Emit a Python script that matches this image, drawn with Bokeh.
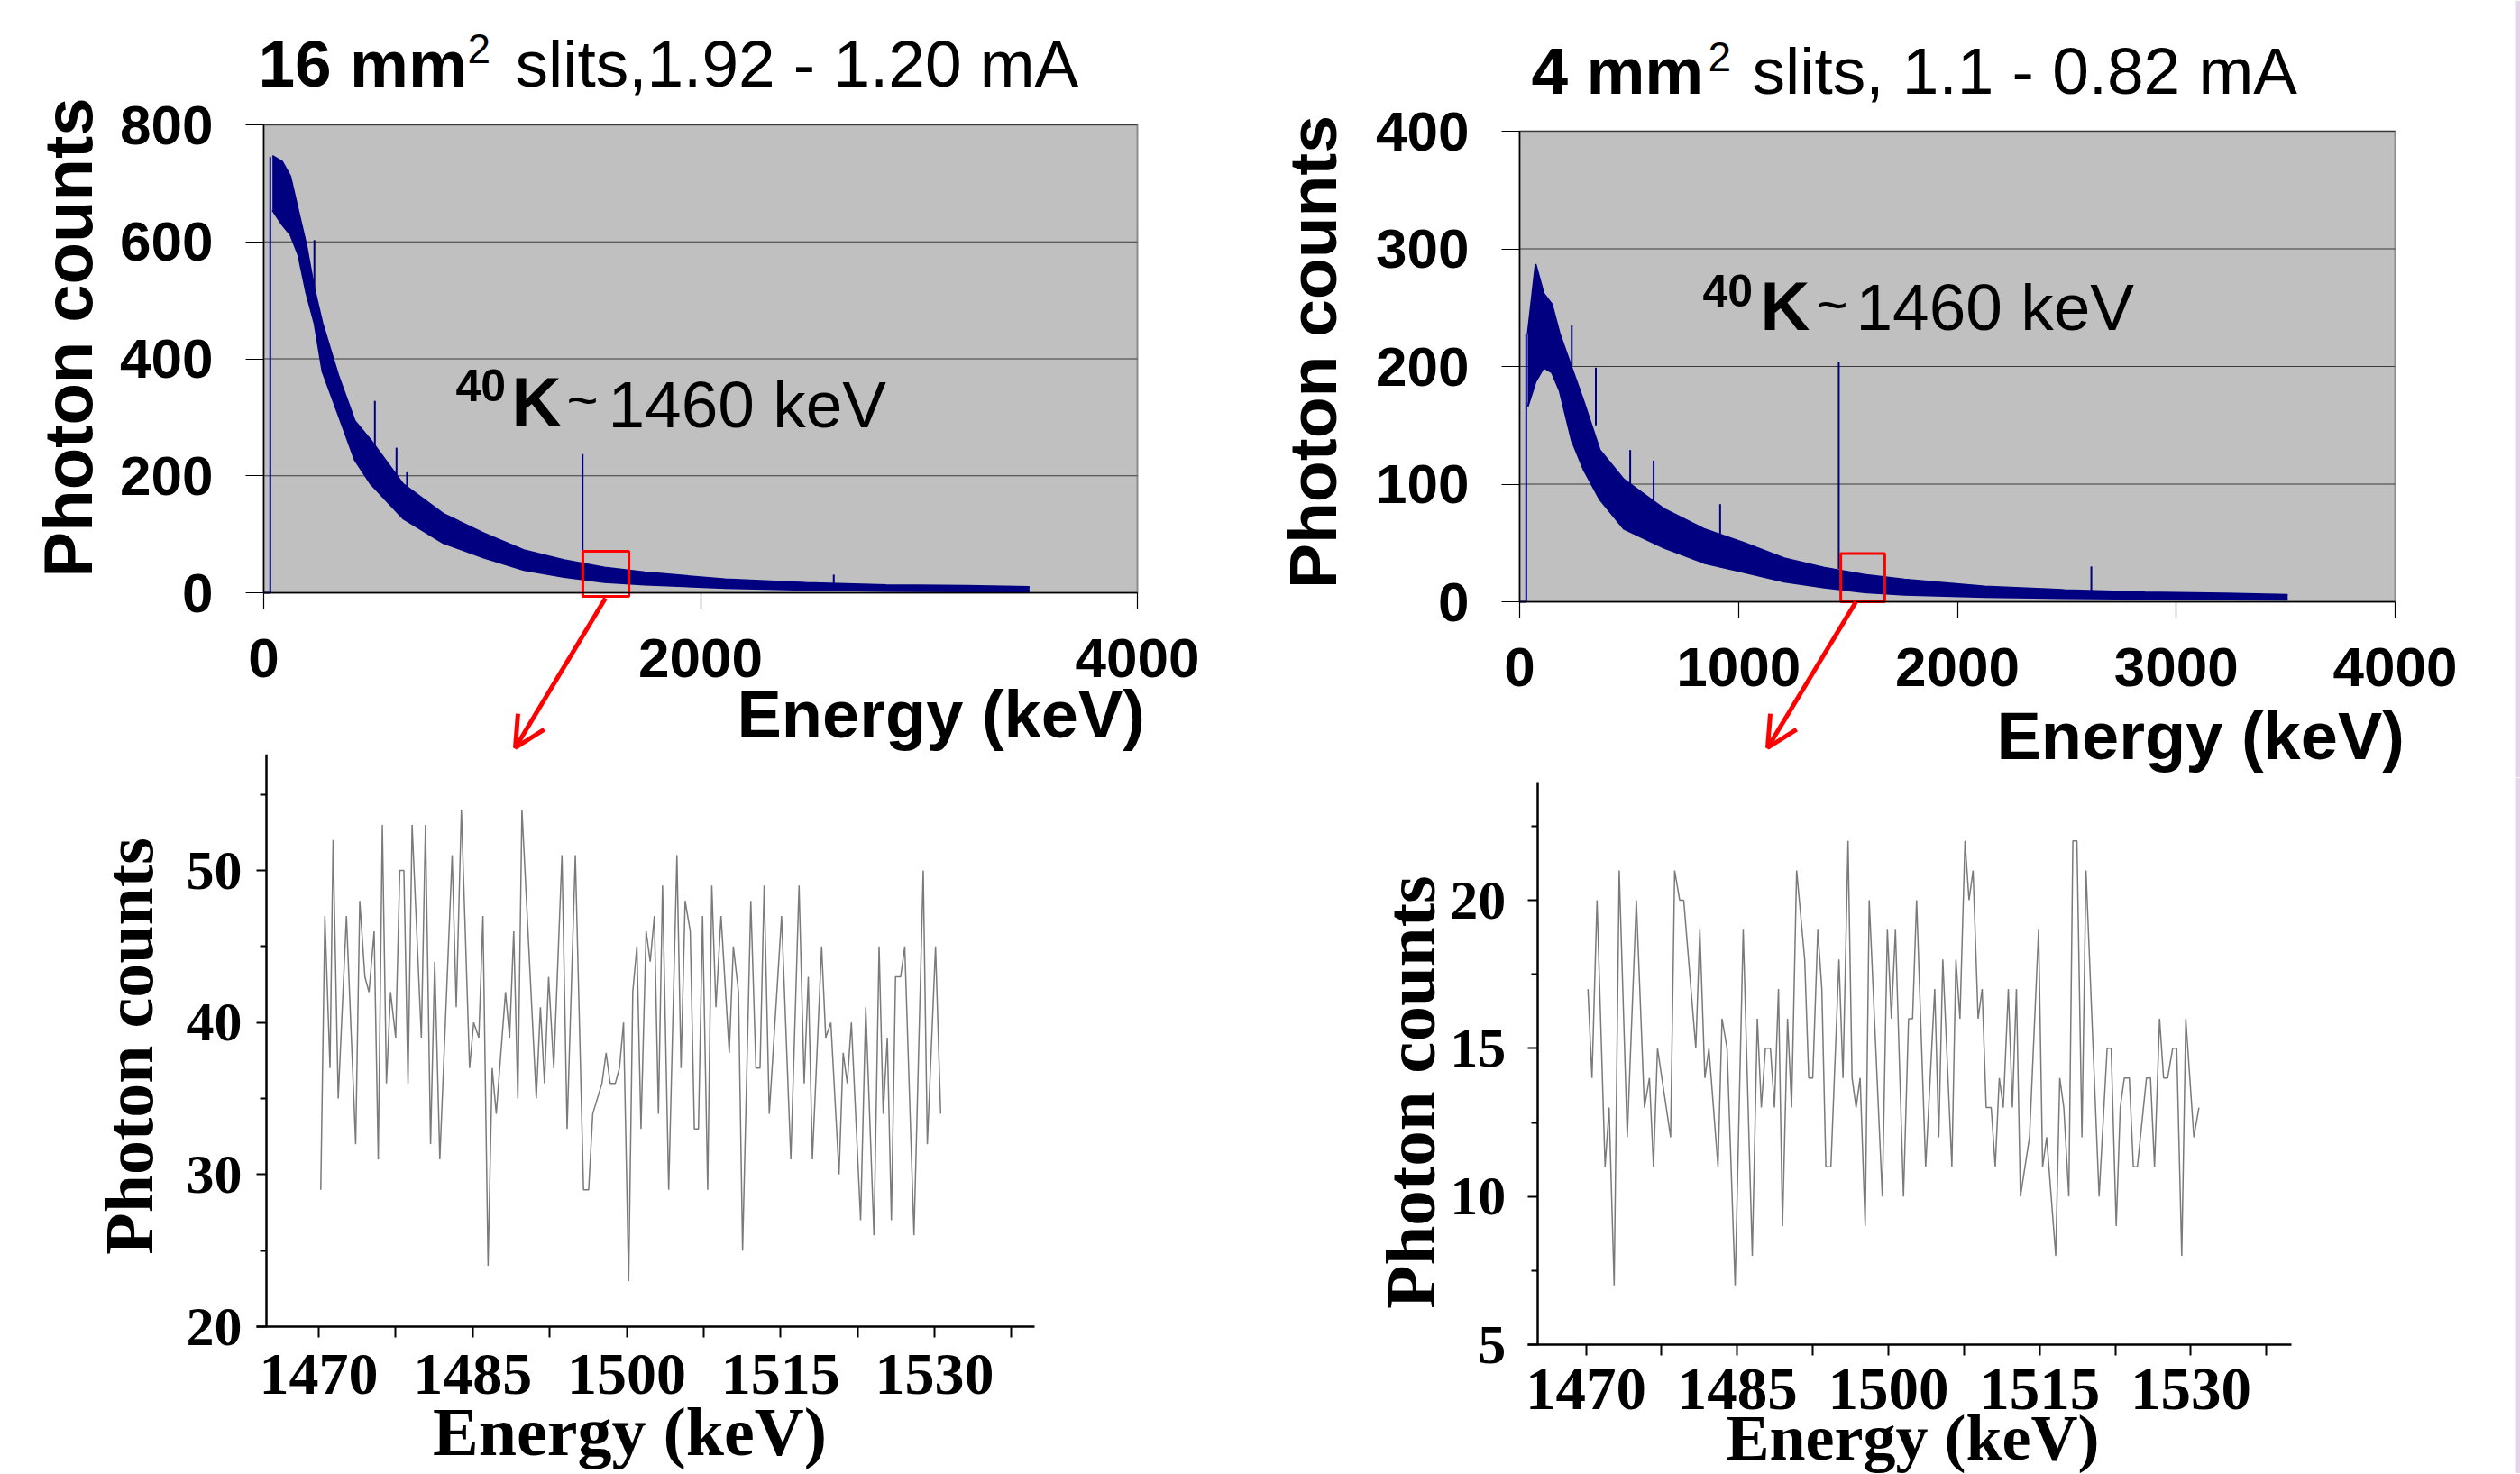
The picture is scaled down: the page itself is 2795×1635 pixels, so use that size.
import numpy as np
from bokeh.plotting import figure
from bokeh.models import Label, Arrow, OpenHead, FixedTicker, Range1d, BoxAnnotation
from bokeh.layouts import row, column
from bokeh.embed import file_html
from bokeh.resources import INLINE

SANS = "Liberation Sans"
SERIF = "Liberation Serif"
NAVY = "#000080"

# ---------------- data: top-left spectrum (16 mm2 slits) ----------------
TL_LEAD_E = [0, 30, 30]
TL_LEAD_C = [0, 0, 745]
TL_ENV_E = [40, 85, 122, 158, 195, 232, 269, 343, 417, 490, 638, 822, 1007,
            1191, 1375, 1560, 1744, 2113, 2481, 2850, 3219, 3506]
TL_ENV_HI = [747, 737, 712, 654, 595, 520, 461, 370, 294, 261, 186, 135, 102,
             73, 56, 43, 35, 23, 17, 13, 12, 10]
TL_ENV_LO = [654, 629, 612, 578, 512, 461, 378, 303, 227, 186, 127, 85, 60,
             39, 27, 18, 14, 8, 5, 3, 2.5, 2]
TL_SPIKE_E = [232, 509, 608, 656, 1460, 2610]
TL_SPIKE_TOP = [603, 328, 248, 206, 237, 31]
TL_SPIKE_BASE = [500, 250, 200, 170, 50, 12]
TL_BOX = [1461, 1672, -6, 71]

# ---------------- data: top-right spectrum (4 mm2 slits) ----------------
TR_LEAD_E = [0, 30, 30]
TR_LEAD_C = [0, 0, 228]
TR_ENV_E = [37, 73, 110, 147, 183, 238, 293, 366, 476, 659, 842, 1026, 1209,
            1392, 1575, 1758, 2125, 2491, 2857, 3223, 3509]
TR_ENV_HI = [228, 287, 262, 253, 228, 199, 170, 129, 104, 79, 62, 50, 37,
             29, 23, 19, 13, 10, 8, 7, 6]
TR_ENV_LO = [166, 187, 199, 195, 179, 137, 112, 87, 62, 46, 33, 25, 17,
             12, 8, 6, 4, 3, 2.5, 2, 1.7]
TR_SPIKE_E = [238, 348, 505, 612, 916, 1458, 2612]
TR_SPIKE_TOP = [235, 199, 129, 120, 83, 204, 30]
TR_SPIKE_BASE = [200, 150, 90, 75, 50, 28, 8]
TR_BOX = [1467, 1668, 0, 41]

# ---------------- data: bottom-left zoom (1470-1530 keV) ----------------
BL_E = [1470.2, 1470.6, 1471.1, 1471.4, 1471.9, 1472.7, 1473.6, 1474.0, 1474.5, 1474.9,
        1475.4, 1475.8, 1476.2, 1476.6, 1477.0, 1477.5, 1477.9, 1478.3, 1478.7, 1479.1,
        1480.0, 1480.4, 1480.9, 1481.3, 1481.8, 1483.0, 1483.4, 1483.9, 1484.7, 1485.1,
        1485.6, 1486.0, 1486.5, 1486.9, 1487.3, 1488.2, 1488.6, 1489.0, 1489.4, 1489.8,
        1491.2, 1491.6, 1492.0, 1492.4, 1492.9, 1493.7, 1494.2, 1495.0, 1495.8, 1496.3,
        1496.7, 1497.6, 1498.0, 1498.4, 1498.9, 1499.3, 1499.7, 1500.2, 1500.6, 1501.0,
        1501.4, 1501.9, 1502.3, 1502.7, 1503.1, 1503.5, 1504.1, 1504.9, 1505.3, 1505.7,
        1506.2, 1506.6, 1507.0, 1507.4, 1507.9, 1508.3, 1508.7, 1509.2, 1510.0, 1510.4,
        1510.9, 1511.3, 1512.1, 1512.6, 1513.0, 1513.4, 1513.9, 1515.1, 1516.0, 1516.8,
        1517.3, 1517.7, 1518.1, 1519.0, 1519.4, 1519.9, 1520.7, 1521.1, 1521.5, 1521.9,
        1522.8, 1523.3, 1524.1, 1524.6, 1525.0, 1525.4, 1525.8, 1526.2, 1526.7, 1527.1,
        1528.0, 1528.9, 1529.3, 1530.1, 1530.6]
BL_C = [29, 47, 37, 52, 35, 47, 32, 48, 43, 42,
        46, 31, 53, 36, 42, 39, 50, 50, 36, 53,
        39, 53, 32, 44, 31, 51, 41, 54, 37, 40,
        39, 47, 24, 37, 34, 42, 39, 46, 35, 54,
        35, 41, 36, 43, 37, 51, 33, 51, 29, 29,
        34, 36, 38, 36, 36, 37, 40, 23, 42, 45,
        33, 46, 44, 47, 34, 49, 29, 51, 37, 48,
        46, 33, 33, 47, 29, 49, 41, 47, 38, 45,
        42, 25, 48, 37, 37, 49, 34, 47, 31, 49,
        36, 43, 31, 45, 39, 40, 30, 38, 36, 40,
        27, 41, 26, 45, 34, 39, 27, 43, 43, 45,
        26, 50, 32, 45, 34]

# ---------------- data: bottom-right zoom (1470-1530 keV) ----------------
BR_E = [1470.2, 1470.6, 1471.1, 1471.9, 1472.3, 1472.8, 1473.3, 1474.1, 1475.0, 1475.8,
        1476.3, 1476.7, 1477.1, 1478.4, 1478.8, 1479.3, 1479.7, 1480.9, 1481.3, 1481.8,
        1482.2, 1483.1, 1483.5, 1484.0, 1484.8, 1485.6, 1486.5, 1487.0, 1487.4, 1487.8,
        1488.3, 1488.7, 1489.1, 1489.5, 1490.0, 1490.4,
        1490.9, 1491.7, 1492.1, 1492.5, 1493.0, 1493.4, 1493.8, 1494.3, 1495.1, 1495.5,
        1496.0, 1496.4, 1496.8, 1497.2, 1497.7, 1498.1, 1499.4, 1499.9, 1500.3, 1500.7,
        1501.5, 1502.0, 1502.4, 1502.8, 1503.7, 1504.6, 1505.0, 1505.4, 1506.3, 1506.7,
        1507.1, 1507.6, 1508.0, 1508.4, 1508.9, 1509.3, 1509.7, 1510.2, 1510.6, 1511.0,
        1511.4,
        1511.9, 1512.3, 1512.7, 1513.1, 1514.0, 1514.9, 1515.3, 1515.7, 1516.6, 1517.0,
        1517.4, 1517.9, 1518.3, 1518.7, 1519.2, 1519.6, 1520.9, 1521.7, 1522.1, 1522.6,
        1523.0, 1523.4, 1523.9, 1524.3, 1524.7, 1525.6, 1526.0, 1526.4, 1526.9, 1527.3,
        1527.7, 1528.2, 1528.6, 1529.1, 1529.5, 1530.3, 1530.8]
BR_C = [17, 14, 20, 11, 13, 7, 21, 12, 20, 13,
        14, 11, 15, 12, 21, 20, 20, 15, 19, 14,
        15, 11, 16, 15, 7, 19, 8, 16, 13, 15,
        15, 13, 17, 9, 16, 13,
        21, 18, 14, 14, 19, 17, 11, 11, 18, 14,
        22, 14, 13, 14, 9, 20, 10, 19, 16, 19,
        10, 16, 16, 20, 11, 17, 12, 18, 11, 18,
        16, 22, 20, 21, 16, 17, 13, 13, 11, 14,
        13,
        17, 13, 17, 10, 12, 19, 11, 12, 8, 14,
        13, 10, 22, 22, 12, 21, 10, 15, 15, 9,
        13, 14, 14, 11, 11, 14, 14, 11, 16, 14,
        14, 15, 15, 8, 16, 12, 13]

TOP_XLIM = [0, 4000]
TL_YLIM = [0, 800]
TR_YLIM = [0, 400]
TOP_XTICKS_L = [0, 2000, 4000]
TOP_XTICKS_R = [0, 1000, 2000, 3000, 4000]
TL_YTICKS = [0, 200, 400, 600, 800]
TR_YTICKS = [0, 100, 200, 300, 400]
BOT_XTICKS = [1470, 1485, 1500, 1515, 1530]
BOT_XMINOR = [1477.5, 1492.5, 1507.5, 1522.5, 1537.5]
BL_XLIM = [1463.9, 1539.75]
BL_YLIM = [20, 57.66]
BL_YTICKS = [20, 30, 40, 50]
BL_YMINOR = [25, 35, 45, 55]
BR_XLIM = [1464.2, 1539.98]
BR_YLIM = [5, 23.99]
BR_YTICKS = [5, 10, 15, 20]
BR_YMINOR = [7.5, 12.5, 17.5, 22.5]


def lin(p0, p1, v0, v1):
    k = (v1 - v0) / (p1 - p0)
    return lambda P: v0 + (P - p0) * k


class Panel:
    """A figure whose frame is its whole canvas; page box + two calibration points per axis."""
    def __init__(self, X0, Y0, X1, Y1, xcal, ycal):
        self.X0, self.Y0, self.X1, self.Y1 = X0, Y0, X1, Y1
        fx = lin(*xcal)
        fy = lin(*ycal)
        self.p = figure(width=X1 - X0, height=Y1 - Y0,
                        x_range=Range1d(fx(X0), fx(X1)), y_range=Range1d(fy(Y1), fy(Y0)),
                        output_backend="svg", toolbar_location=None,
                        min_border=0, min_border_left=0, min_border_right=0,
                        min_border_top=0, min_border_bottom=0)
        self.p.outline_line_color = None
        self.p.background_fill_color = "white"
        self.p.border_fill_color = "white"
        self.p.grid.visible = False

    def text(self, X, Y, text, size, font=SANS, bold=False, align="left",
             baseline="alphabetic", angle=0.0, color="black"):
        # compensate the renderer's baseline placement (measured offsets)
        if angle == 0.0 and baseline == "alphabetic":
            Y = Y - 0.35 * size
        elif angle != 0.0:
            X = X - 0.06 * size
        self.p.add_layout(Label(x=X - self.X0, y=self.Y1 - Y, x_units="screen", y_units="screen",
                                text=text, text_font=font, text_font_size=f"{size}px",
                                text_font_style="bold" if bold else "normal",
                                text_align=align, text_baseline=baseline, angle=angle,
                                text_color=color))

    def arrow(self, Xs, Ys, Xe, Ye):
        self.p.add_layout(Arrow(end=OpenHead(size=34, line_color="#ff0000", line_width=5),
                                x_start=Xs - self.X0, y_start=self.Y1 - Ys,
                                x_end=Xe - self.X0, y_end=self.Y1 - Ye,
                                start_units="screen", end_units="screen",
                                line_color="#ff0000", line_width=5))

    def edge_stripe(self, Xa, Xb, color):
        self.p.add_layout(BoxAnnotation(left=Xa - self.X0, right=Xb - self.X0,
                                        left_units="screen", right_units="screen",
                                        fill_color=color, fill_alpha=1.0, line_color=None,
                                        level="underlay"))


def style_axis(ax, font, size, bold=True):
    ax.axis_line_color = "black"
    ax.major_tick_in = 0
    ax.minor_tick_in = 0
    ax.major_tick_line_color = "black"
    ax.minor_tick_line_color = "black"
    ax.major_label_text_font = font
    ax.major_label_text_font_style = "bold" if bold else "normal"
    ax.major_label_text_font_size = f"{size}px"
    ax.major_label_text_color = "black"


def top_panel(X0, Y0, X1, Y1, xcal, ycal, ylim, xticks, yticks,
              lead_e, lead_c, env_e, env_hi, env_lo, sp_e, sp_top, sp_base, box):
    pan = Panel(X0, Y0, X1, Y1, xcal, ycal)
    p = pan.p
    p.quad(left=[TOP_XLIM[0]], right=[TOP_XLIM[1]], bottom=[ylim[0]], top=[ylim[1]],
           fill_color="#c0c0c0", line_color="#8c8c8c", line_width=2)
    grid_y = [t for t in yticks if t > ylim[0]]
    p.segment(x0=[TOP_XLIM[0]] * len(grid_y), x1=[TOP_XLIM[1]] * len(grid_y),
              y0=grid_y, y1=grid_y, line_color="#3a3a3a", line_width=1)
    p.line(lead_e, lead_c, line_color=NAVY, line_width=2)
    p.varea(x=env_e, y1=env_lo, y2=env_hi, fill_color=NAVY)
    p.line(env_e, env_hi, line_color=NAVY, line_width=2)
    p.line(env_e, env_lo, line_color=NAVY, line_width=2)
    p.segment(x0=sp_e, y0=sp_base, x1=sp_e, y1=sp_top, line_color=NAVY, line_width=2)
    p.quad(left=[box[0]], right=[box[1]], bottom=[box[2]], top=[box[3]],
           fill_alpha=0, line_color="#ff0000", line_width=3)
    p.xaxis.fixed_location = ylim[0]
    p.xaxis.bounds = tuple(TOP_XLIM)
    p.yaxis.fixed_location = TOP_XLIM[0]
    p.yaxis.bounds = tuple(ylim)
    p.xaxis.ticker = FixedTicker(ticks=xticks, minor_ticks=[])
    p.yaxis.ticker = FixedTicker(ticks=yticks, minor_ticks=[])
    for ax in (p.xaxis, p.yaxis):
        style_axis(ax, SANS, 62)
        ax.axis_line_width = 1.5
        ax.major_tick_line_width = 1.2
        ax.minor_tick_out = 0
    p.xaxis.major_tick_out = 18
    p.yaxis.major_tick_out = 20
    p.xaxis.major_label_standoff = 33
    p.yaxis.major_label_standoff = 36
    return pan


# ---------------- top-left ----------------
tl = top_panel(0, 0, 1395, 836, (292, 1261, 0, 4000), (657, 138, 0, 800), TL_YLIM,
               TOP_XTICKS_L, TL_YTICKS, TL_LEAD_E, TL_LEAD_C, TL_ENV_E, TL_ENV_HI, TL_ENV_LO,
               TL_SPIKE_E, TL_SPIKE_TOP, TL_SPIKE_BASE, TL_BOX)
tl.text(286, 96, "16 mm", 73, bold=True)
tl.text(518, 70, "2", 46)
tl.text(571, 96, "slits,1.92 - 1.20 mA", 73)
tl.text(505, 444, "40", 50, bold=True)
tl.text(567, 472, "K", 76, bold=True)
tl.text(628, 464, "~", 60)
tl.text(674, 474, "1460 keV", 73)
tl.text(80, 374, "Photon counts", 76, bold=True, align="center",
        baseline="middle", angle=np.pi / 2)
tl.text(817, 818, "Energy (keV)", 74, bold=True)
tl.arrow(671, 663, 571, 829)

# ---------------- top-right ----------------
tr = top_panel(1395, 0, 2795, 862, (1685, 2656, 0, 4000), (667, 145, 0, 400), TR_YLIM,
               TOP_XTICKS_R, TR_YTICKS, TR_LEAD_E, TR_LEAD_C, TR_ENV_E, TR_ENV_HI, TR_ENV_LO,
               TR_SPIKE_E, TR_SPIKE_TOP, TR_SPIKE_BASE, TR_BOX)
tr.edge_stripe(2790, 2795, "#e6d4ea")
tr.text(1698, 104, "4 mm", 73, bold=True)
tr.text(1894, 79, "2", 46)
tr.text(1943, 104, "slits, 1.1 - 0.82 mA", 73)
tr.text(1888, 339, "40", 50, bold=True)
tr.text(1952, 366, "K", 76, bold=True)
tr.text(2014, 358, "~", 60)
tr.text(2058, 366, "1460 keV", 73)
tr.text(1460, 390, "Photon counts", 75, bold=True, align="center",
        baseline="middle", angle=np.pi / 2)
tr.text(2214, 842, "Energy (keV)", 74, bold=True)
tr.arrow(2058, 667, 1960, 829)


def bottom_panel(X0, Y0, X1, Y1, xcal, ycal, xlim, ylim, yt, ym, e, c,
                 xsize, ysize, xstand, ystand):
    pan = Panel(X0, Y0, X1, Y1, xcal, ycal)
    p = pan.p
    p.line(e, c, line_color="#7a7a7a", line_width=1.5)
    p.xaxis.fixed_location = ylim[0]
    p.xaxis.bounds = tuple(xlim)
    p.yaxis.fixed_location = xlim[0] + 1.0
    p.yaxis.bounds = tuple(ylim)
    p.xaxis.ticker = FixedTicker(ticks=BOT_XTICKS, minor_ticks=BOT_XMINOR)
    p.yaxis.ticker = FixedTicker(ticks=yt, minor_ticks=ym)
    for ax in (p.xaxis, p.yaxis):
        style_axis(ax, SERIF, 60)
        ax.axis_line_width = 2.5
        ax.major_tick_line_width = 2
        ax.minor_tick_line_width = 2
    p.xaxis.major_tick_out = 12
    p.xaxis.minor_tick_out = 12
    p.yaxis.major_tick_out = 11
    p.yaxis.minor_tick_out = 7
    p.xaxis.major_label_text_font_size = f"{xsize}px"
    p.yaxis.major_label_text_font_size = f"{ysize}px"
    p.xaxis.major_label_standoff = xstand
    p.yaxis.major_label_standoff = ystand
    return pan


# ---------------- bottom-left ----------------
bl = bottom_panel(0, 836, 1395, 1634, (353, 1036, 1470, 1530), (1471, 965, 20, 50),
                  BL_XLIM, BL_YLIM, BL_YTICKS, BL_YMINOR, BL_E, BL_C, 66, 62, 19, 16)
bl.text(147, 1160, "Photon counts", 76, font=SERIF, bold=True, align="center",
        baseline="middle", angle=np.pi / 2)
bl.text(698, 1614, "Energy (keV)", 76, font=SERIF, bold=True, align="center")

# ---------------- bottom-right ----------------
br = bottom_panel(1395, 862, 2795, 1634, (1758.5, 2429.4, 1470, 1530), (1491, 998, 5, 20),
                  BR_XLIM, BR_YLIM, BR_YTICKS, BR_YMINOR, BR_E, BR_C, 67, 62, 15, 24)
br.edge_stripe(2790, 2795, "#e6d4ea")
br.text(1569, 1211, "Photon counts", 79, font=SERIF, bold=True, align="center",
        baseline="middle", angle=np.pi / 2)
br.text(2121, 1620, "Energy (keV)", 72, font=SERIF, bold=True, align="center")

layout = row(column(tl.p, bl.p), column(tr.p, br.p))
open("out.html", "w").write(file_html(layout, INLINE))
